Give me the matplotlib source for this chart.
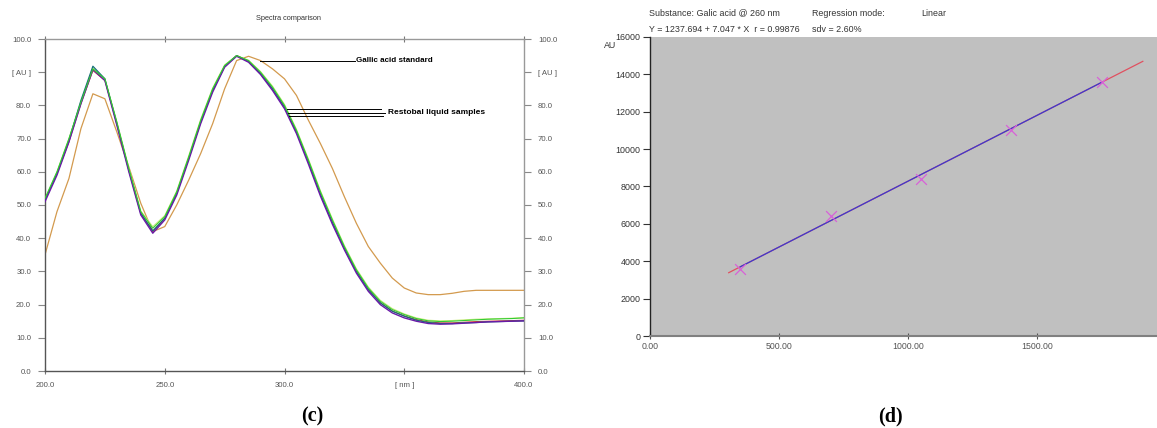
import matplotlib
matplotlib.use("Agg")
import matplotlib.pyplot as plt

plt.rcParams['font.family'] = ['Liberation Sans', 'DejaVu Sans']

# ---------------- data: (c) spectra comparison ----------------
wavelength = [200, 205, 210, 215, 220, 225, 230, 235, 240, 245, 250, 255, 260, 265, 270,
              275, 280, 285, 290, 295, 300, 305, 310, 315, 320, 325, 330, 335, 340, 345,
              350, 355, 360, 365, 370, 375, 380, 385, 390, 395, 400]

gallic_standard = [35, 48, 58, 73, 83.5, 82, 72, 61.5, 50.5, 42, 43.5, 50, 57.5, 65.5, 74.5,
                   85, 93.5, 94.8, 93.5, 91, 88, 83, 75.5, 68.5, 61, 52.5, 44.5, 37.5, 32.5, 28,
                   25, 23.5, 23, 23, 23.4, 24, 24.3, 24.3, 24.3, 24.3, 24.3]

sample_green = [52, 60, 70, 81, 91, 88, 75, 61, 48, 43, 46.5, 54, 64.5, 75.5, 85,
                92, 95, 93.5, 90, 85.5, 80, 72.5, 63.5, 54, 45.5, 37.5, 30.5, 25, 21, 18.5,
                17, 15.8, 15.1, 14.9, 15.0, 15.2, 15.4, 15.6, 15.7, 15.8, 16.0]

sample_lightgreen = [51.8, 60, 70, 81, 91.2, 88, 75, 61.2, 48.2, 43.5, 46.8, 54.2, 64.8, 75.8, 85.2,
                     92.2, 95, 93.6, 90.2, 85.8, 80.3, 72.8, 63.8, 54.3, 45.8, 37.8, 30.8, 25.3, 21.3, 18.8,
                     17.2, 16.0, 15.3, 15.1, 15.2, 15.4, 15.6, 15.7, 15.8, 15.9, 16.1]

sample_teal = [51.5, 59.5, 69.5, 81.5, 91.8, 88, 74.5, 60.5, 47.5, 42.2, 46, 53.5, 64, 75, 84.5,
               91.8, 95, 93.3, 89.6, 85, 79.5, 72, 63, 53.3, 44.8, 37, 30, 24.5, 20.5, 18,
               16.5, 15.3, 14.6, 14.3, 14.3, 14.5, 14.6, 14.8, 14.9, 15.0, 15.1]

sample_red = [51.5, 59.5, 69, 80.5, 90.5, 87.5, 74.5, 60.5, 47.5, 42, 46, 53.5, 64, 75, 84.5,
              91.7, 95, 93.2, 89.5, 85, 79.5, 72, 63, 53.3, 44.8, 37, 30, 24.6, 20.6, 18.1,
              16.6, 15.5, 14.8, 14.5, 14.5, 14.7, 14.9, 15.0, 15.1, 15.2, 15.3]

sample_purple = [51, 59, 69, 80.5, 90.8, 87.5, 74, 60, 47, 41.5, 45.5, 53, 63.5, 74.5, 84,
                 91.5, 94.8, 93, 89.3, 84.5, 79, 71.5, 62.3, 52.7, 44.2, 36.5, 29.5, 24, 20, 17.5,
                 16, 15, 14.3, 14.1, 14.2, 14.4, 14.6, 14.8, 14.9, 15.0, 15.1]

c_yticks = [0, 10, 20, 30, 40, 50, 60, 70, 80, 90, 100]
c_yticklabels = ['0.0', '10.0', '20.0', '30.0', '40.0', '50.0', '60.0', '70.0', '80.0', '[ AU ]', '100.0']
c_xticks = [200, 250, 300, 350, 400]
c_xticklabels = ['200.0', '250.0', '300.0', '[ nm ]', '400.0']

# ---------------- data: (d) calibration ----------------
amount = [350, 700, 1050, 1400, 1750]
area = [3600, 6400, 8400, 11000, 13600]
intercept = 1237.694
slope = 7.047
fit_red_range = [305, 1910]
fit_blue_range = [350, 1750]
d_yticks = [0, 2000, 4000, 6000, 8000, 10000, 12000, 14000, 16000]
d_xticks = [0, 500, 1000, 1500]
d_xticklabels = ['0.00', '500.00', '1000.00', '1500.00']

W, H = 1157, 428
fig = plt.figure(figsize=(W / 100, H / 100), dpi=100)

def ax_rect(x0, y0, x1, y1):
    return [x0 / W, 1 - y1 / H, (x1 - x0) / W, (y1 - y0) / H]

# ---------- left panel ----------
ax = fig.add_axes(ax_rect(45, 39, 524, 371))
ax.plot(wavelength, gallic_standard, color='#d39a4e', lw=0.9, zorder=2)
ax.plot(wavelength, sample_lightgreen, color='#c8ec7a', lw=0.8, zorder=3)
ax.plot(wavelength, sample_red, color='#d03030', lw=0.7, zorder=3)
ax.plot(wavelength, sample_teal, color='#156f78', lw=0.9, zorder=3)
ax.plot(wavelength, sample_purple, color='#6a1aa8', lw=1.0, zorder=4)
ax.plot(wavelength, sample_green, color='#33cc33', lw=0.8, zorder=5)
ax.set_xlim(200, 400)
ax.set_ylim(0, 100)
ax.set_yticks(c_yticks)
ax.set_yticklabels(c_yticklabels)
ax.set_xticks(c_xticks)
ax.set_xticklabels(c_xticklabels)
ax.tick_params(axis='y', which='both', left=True, right=True, labelleft=True, labelright=True,
               length=5, width=0.8, color='#888888', labelsize=5.6, labelcolor='#555555', pad=5)
ax.tick_params(axis='x', which='both', bottom=True, top=True, direction='inout', length=4,
               width=0.8, color='#777777', labelsize=5.6, labelcolor='#555555', pad=6)
for s in ['left', 'bottom']:
    ax.spines[s].set_color('#555555')
    ax.spines[s].set_linewidth(1.0)
for s in ['top', 'right']:
    ax.spines[s].set_color('#999999')
    ax.spines[s].set_linewidth(1.0)

# annotations
ax.plot([289.6, 329.5], [93.5, 93.5], color='black', lw=0.7, zorder=6)
ax.text(330, 93.5, 'Gallic acid standard', fontsize=5.8, fontweight='bold', va='center', ha='left')
ax.plot([301, 340.5], [78.8, 78.8], color='black', lw=0.7, zorder=6)
ax.plot([301.5, 342.0], [77.8, 77.8], color='black', lw=0.7, zorder=6)
ax.plot([302, 341.0], [76.8, 76.8], color='black', lw=0.7, zorder=6)
ax.text(343.2, 77.8, 'Restobal liquid samples', fontsize=6.0, fontweight='bold', va='center', ha='left')

fig.text(288 / W, 1 - 18 / H, 'Spectra comparison', fontsize=5.3, ha='center', va='center', color='#333333')
fig.text(312 / W, 1 - 416 / H, '(c)', fontsize=14.5, fontweight='bold', family='Liberation Serif',
         ha='center', va='center')

# ---------- right panel ----------
bx = fig.add_axes(ax_rect(650, 37, 1157, 336))
bx.set_facecolor('#c0c0c0')
bx.plot(fit_red_range, [intercept + slope * v for v in fit_red_range], color='#e05060', lw=0.9, zorder=2)
bx.plot(fit_blue_range, [intercept + slope * v for v in fit_blue_range], color='#3a3ad0', lw=0.9, zorder=3)
bx.scatter(amount, area, marker='x', s=60, color='#d860d8', linewidths=0.9, zorder=4)
bx.set_xlim(0, 1965)
bx.set_ylim(0, 16000)
bx.set_yticks(d_yticks)
bx.set_yticklabels([str(v) for v in d_yticks])
bx.set_xticks(d_xticks)
bx.set_xticklabels(d_xticklabels)
bx.tick_params(axis='y', length=5, width=0.8, color='#333333', labelsize=6.4, labelcolor='#333333', pad=2)
bx.tick_params(axis='x', direction='inout', length=4, width=0.8, color='#555555', labelsize=6.3,
               labelcolor='#555555', pad=2)
for s in ['top', 'right']:
    bx.spines[s].set_visible(False)
bx.spines['left'].set_color('#222222')
bx.spines['left'].set_linewidth(1.0)
bx.spines['bottom'].set_color('#808080')
bx.spines['bottom'].set_linewidth(1.5)

fs = 6.4
fig.text(610 / W, 1 - 45 / H, 'AU', fontsize=fs, ha='center', va='center', color='#333333')
fig.text(649 / W, 1 - 13 / H, 'Substance: Galic acid @ 260 nm', fontsize=fs, ha='left', va='center', color='#333333')
fig.text(812 / W, 1 - 13 / H, 'Regression mode:', fontsize=fs, ha='left', va='center', color='#333333')
fig.text(921 / W, 1 - 13 / H, 'Linear', fontsize=fs, ha='left', va='center', color='#333333')
fig.text(649 / W, 1 - 30 / H, 'Y = 1237.694 + 7.047 * X  r = 0.99876', fontsize=fs, ha='left', va='center', color='#333333')
fig.text(812 / W, 1 - 30 / H, 'sdv = 2.60%', fontsize=fs, ha='left', va='center', color='#333333')
fig.text(890 / W, 1 - 416 / H, '(d)', fontsize=14.5, fontweight='bold', family='Liberation Serif',
         ha='center', va='center')

fig.savefig('out.png', dpi=100)
